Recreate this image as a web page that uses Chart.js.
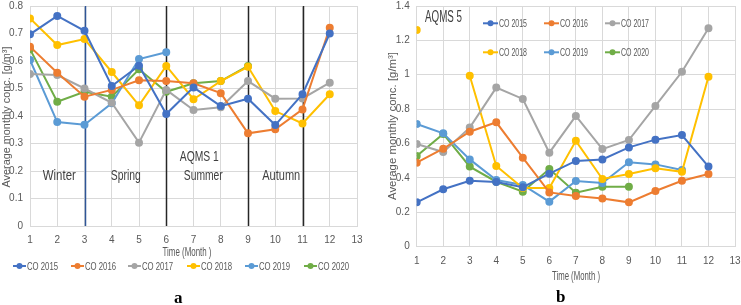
<!DOCTYPE html>
<html><head><meta charset="utf-8">
<script src="https://cdn.jsdelivr.net/npm/chart.js@4"></script>
<style>
html,body{margin:0;padding:0;background:#fff;}
body{width:741px;height:305px;position:relative;overflow:hidden;}
canvas{position:absolute;top:0;}
#ca{left:0;}
#cb{left:370px;}
.lab{position:absolute;font:bold 17px "Liberation Serif",serif;color:#000;line-height:17px;}
</style></head><body>
<canvas id="ca" width="365" height="305"></canvas>
<canvas id="cb" width="371" height="305"></canvas>
<div class="lab" style="left:174px;top:289px">a</div>
<div class="lab" style="left:556px;top:288px">b</div>
<script>
// ---------- data ----------
const months = [1,2,3,4,5,6,7,8,9,10,11,12];
const seriesNames = ['CO 2015','CO 2016','CO 2017','CO 2018','CO 2019','CO 2020'];

// AQMS 1 (chart a)
const a2015 = [0.697,0.764,0.710,0.509,0.583,0.407,0.504,0.436,0.463,0.367,0.479,0.700];
const a2016 = [0.652,0.557,0.470,0.495,0.530,0.527,0.519,0.483,0.337,0.352,0.424,0.721];
const a2017 = [0.553,0.549,0.500,0.448,0.303,0.495,0.422,0.432,0.527,0.463,0.464,0.521];
const a2018 = [0.755,0.658,0.680,0.560,0.439,0.582,0.461,0.527,0.579,0.418,0.373,0.479];
const a2019 = [0.604,0.378,0.368,0.446,0.607,0.632,null,null,null,null,null,null];
const a2020 = [0.643,0.452,0.488,0.470,0.570,0.488,0.519,0.527,0.582,null,null,null];

// AQMS 5 (chart b)
const b2015 = [0.257,0.333,0.383,0.375,0.345,0.424,0.498,0.507,0.577,0.622,0.649,0.465];
const b2016 = [0.488,0.569,0.668,0.723,0.517,0.315,0.294,0.280,0.257,0.323,0.383,0.422];
const b2017 = [0.597,0.550,0.692,0.925,0.859,0.546,0.760,0.567,0.620,0.818,1.017,1.270];
const b2018 = [1.260,null,0.994,0.469,0.340,0.340,0.615,0.393,0.422,0.455,0.435,0.988];
const b2019 = [0.713,0.659,0.507,0.387,0.358,0.261,0.381,0.370,0.490,0.478,0.445,null];
const b2020 = [0.527,0.655,0.465,0.377,0.319,0.451,0.313,0.348,0.348,null,null,null];

const seasonBounds = [3,6,9,11];
const seasonNames = ['Winter','Spring','Summer','Autumn'];
const xTitle = 'Time (Month )';
const yTitle = 'Average monthly conc. [g/m³]';

// ---------- styles ----------
const COLORS = ['#4472C4','#ED7D31','#A5A5A5','#FFC000','#5B9BD5','#70AD47'];
const FONT = "'Liberation Sans',Arial,sans-serif";
const GRAY = '#595959';
const GRID = '#D9D9D9';

function mkDatasets(arrs){
  return arrs.map((arr,i)=>({
    label: seriesNames[i],
    data: months.map((m,j)=>({x:m,y:arr[j]})),
    borderColor: COLORS[i], backgroundColor: COLORS[i],
    pointBackgroundColor: COLORS[i], pointBorderColor: COLORS[i],
    borderWidth: 2, pointRadius: 3, pointHoverRadius: 3, tension: 0, spanGaps: false
  }));
}
const fmt = v => String(+(+v).toFixed(1));

const legendPlugin = {
  id:'customLegend',
  afterDraw(chart, args, opts){
    if(!opts || !opts.pos) return;
    const ctx = chart.ctx;
    chart.data.datasets.forEach((ds,i)=>{
      const [x,y] = opts.pos[i];
      ctx.save();
      ctx.strokeStyle = ds.borderColor; ctx.lineWidth = 2;
      ctx.beginPath(); ctx.moveTo(x,y); ctx.lineTo(x+opts.len,y); ctx.stroke();
      ctx.fillStyle = ds.borderColor;
      ctx.beginPath(); ctx.arc(x+opts.len/2,y,3,0,Math.PI*2); ctx.fill();
      ctx.fillStyle = GRAY; ctx.font = opts.font;
      ctx.textBaseline = 'middle'; ctx.textAlign = 'left';
      ctx.fillText(ds.label, x+opts.len+1, y+0.5, opts.textW);
      ctx.restore();
    });
  }
};

const annotPlugin = {
  id:'annot',
  beforeDatasetsDraw(chart, args, opts){
    if(!opts) return;
    const ctx = chart.ctx, xs = chart.scales.x, ca = chart.chartArea;
    ctx.save();
    (opts.lines||[]).forEach(l=>{
      const px = Math.round(xs.getPixelForValue(l.x))+0.5;
      ctx.strokeStyle = l.color; ctx.lineWidth = 1.5;
      ctx.beginPath(); ctx.moveTo(px, ca.top); ctx.lineTo(px, ca.bottom); ctx.stroke();
    });
    ctx.restore();
  },
  afterDraw(chart, args, opts){
    if(!opts) return;
    const ctx = chart.ctx, xs = chart.scales.x, ys = chart.scales.y;
    (opts.texts||[]).forEach(t=>{
      ctx.save();
      ctx.fillStyle = t.color || '#404040';
      ctx.font = t.font; ctx.textBaseline = 'middle'; ctx.textAlign = t.align || 'center';
      const px = t.px !== undefined ? t.px : xs.getPixelForValue(t.x);
      const py = t.py !== undefined ? t.py : ys.getPixelForValue(t.y);
      ctx.translate(px, py);
      if(t.rot) ctx.rotate(t.rot);
      if(t.w) ctx.fillText(t.text, 0, 0, t.w); else ctx.fillText(t.text, 0, 0);
      ctx.restore();
    });
  }
};

function xScale(h, tickPad){
  return {
    type:'linear', min:1, max:13,
    ticks:{stepSize:1, color:GRAY, font:{family:FONT,size:10}, padding:tickPad, maxRotation:0, autoSkip:false},
    grid:{color:GRID, drawTicks:false},
    border:{color:GRID},
    title:{display:false},
    afterFit(s){ s.height = h; s.paddingLeft = 0; s.paddingRight = 0; }
  };
}
function yScale(max, step, w, tickPad){
  return {
    min:0, max:max,
    ticks:{stepSize:step, color:GRAY, font:{family:FONT,size:10}, padding:tickPad, callback:fmt},
    grid:{color:GRID, drawTicks:false},
    border:{display:false},
    title:{display:false},
    afterFit(s){ s.width = w; s.paddingTop = 0; s.paddingBottom = 0; }
  };
}

// ---------- chart a ----------
new Chart(document.getElementById('ca'), {
  type:'line',
  data:{ datasets: mkDatasets([a2015,a2016,a2017,a2018,a2019,a2020]) },
  options:{
    responsive:false, animation:false,
    layout:{padding:{left:0,right:8,top:6,bottom:45}},
    scales:{ x:xScale(34,8), y:yScale(0.8,0.1,30,7) },
    plugins:{
      legend:{display:false}, tooltip:{enabled:false},
      customLegend:{ pos:[[13,266],[71,266],[128,266],[187,266],[245,266],[304,266]], len:13, textW:31, font:"11px "+FONT },
      annot:{
        lines: seasonBounds.map((x,i)=>({x:x, color: i===0 ? '#2F5597' : '#262626'})),
        texts: [
          {text:seasonNames[0], px:59.3, py:176, w:33, font:"15px "+FONT},
          {text:seasonNames[1], px:125.8, py:176, w:30, font:"15px "+FONT},
          {text:seasonNames[2], px:203.3, py:176, w:39, font:"15px "+FONT},
          {text:seasonNames[3], px:281.2, py:176, w:38, font:"15px "+FONT},
          {text:'AQMS 1', px:199.3, py:157, w:39, font:"15px "+FONT},
          {text:xTitle, px:187, py:253, w:49, font:"12px "+FONT, color:GRAY},
          {text:yTitle, px:6.5, py:117, w:141, rot:-Math.PI/2, font:"11.5px "+FONT, color:GRAY}
        ]
      }
    }
  },
  plugins:[legendPlugin, annotPlugin]
});

// ---------- chart b ----------
new Chart(document.getElementById('cb'), {
  type:'line',
  data:{ datasets: mkDatasets([b2015,b2016,b2017,b2018,b2019,b2020]) },
  options:{
    responsive:false, animation:false,
    layout:{padding:{left:0,right:6,top:6,bottom:21}},
    scales:{ x:xScale(37.5,9), y:yScale(1.4,0.2,46.7,7) },
    plugins:{
      legend:{display:false}, tooltip:{enabled:false},
      customLegend:{ pos:[[113,23.3],[174,23.3],[235,23.3],[113,52.3],[174,52.3],[235,52.3]], len:15, textW:28, font:"11px "+FONT },
      annot:{
        texts: [
          {text:'AQMS 5', px:55, py:18, align:'left', w:37, font:"16px "+FONT},
          {text:xTitle, px:206, py:276.7, w:48, font:"12px "+FONT, color:GRAY},
          {text:yTitle, px:23, py:126, w:148, rot:-Math.PI/2, font:"11.5px "+FONT, color:GRAY}
        ]
      }
    }
  },
  plugins:[legendPlugin, annotPlugin]
});
</script>
</body></html>
